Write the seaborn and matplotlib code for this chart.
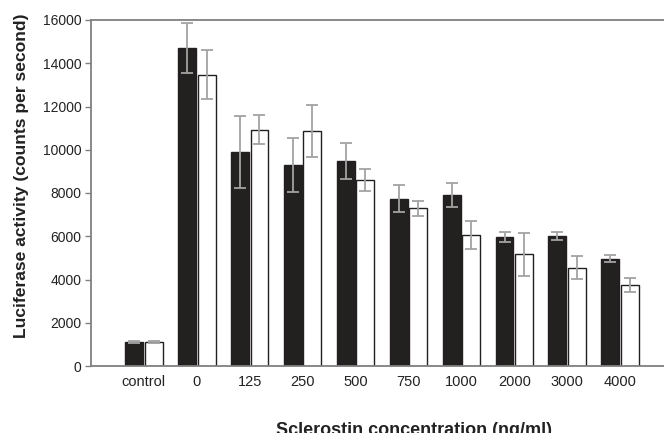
import matplotlib
matplotlib.use("Agg")
import matplotlib.pyplot as plt
import seaborn as sns
import pandas as pd

categories = ["control", "0", "125", "250", "500", "750", "1000", "2000", "3000", "4000"]
series_names = ["A", "B"]
black_vals = [1100, 14690, 9900, 9280, 9480, 7740, 7910, 5950, 6010, 4960]
black_err = [50, 1160, 1670, 1250, 840, 620, 560, 230, 170, 170]
white_vals = [1100, 13470, 10930, 10880, 8600, 7290, 6060, 5160, 4550, 3730]
white_err = [50, 1130, 680, 1210, 530, 355, 660, 980, 530, 320]
yticks = [0, 2000, 4000, 6000, 8000, 10000, 12000, 14000, 16000]

sns.set_style("white")
plt.rcParams["font.family"] = ["Liberation Sans", "DejaVu Sans"]

df = pd.DataFrame({
    "conc": categories * 2,
    "series": [series_names[0]] * len(categories) + [series_names[1]] * len(categories),
    "value": black_vals + white_vals,
})

fig = plt.figure(figsize=(6.64, 4.33), dpi=100)
ax = fig.add_axes([91 / 664, 67 / 433, 582 / 664, 346 / 433])

dark = "#231f20"
sns.barplot(data=df, x="conc", y="value", hue="series", order=categories,
            hue_order=series_names, palette={"A": dark, "B": "white"},
            width=0.737, gap=0.08, errorbar=None, legend=False, ax=ax)

errs = [black_err, white_err]
for cont, err in zip(ax.containers, errs):
    xs = []
    ys = []
    for bar in cont:
        bar.set_edgecolor(dark)
        bar.set_linewidth(1.0)
        xs.append(bar.get_x() + bar.get_width() / 2)
        ys.append(bar.get_height())
    ax.errorbar(xs, ys, yerr=err, fmt="none", ecolor="#a3a3a3",
                elinewidth=1.3, capsize=4, capthick=1.3, zorder=5)

ax.set_xlim(-1, 10)
ax.set_ylim(0, 16000)
ax.set_yticks(yticks)
ax.set_yticklabels([str(v) for v in yticks], fontsize=10, color="#222222")
ax.tick_params(axis="y", which="major", left=True, length=4, width=1,
               color="#808080", pad=3)
ax.tick_params(axis="x", bottom=False, labelsize=10.5, pad=3, labelcolor="#222222")

for side in ["left", "top", "bottom"]:
    ax.spines[side].set_color("#808080")
    ax.spines[side].set_linewidth(1.3)
ax.spines["right"].set_visible(False)

ax.set_xlabel("Sclerostin concentration (ng/ml)", fontsize=13,
              fontweight="bold", color="#222222")
ax.xaxis.set_label_coords((414 - 91) / 582, (-2 - 67) / 346)
ax.xaxis.label.set_va("baseline")
ax.set_ylabel("Luciferase activity (counts per second)", fontsize=12.6,
              fontweight="bold", color="#222222")
ax.yaxis.set_label_coords((21.5 - 91) / 582, (257 - 67) / 346)
ax.yaxis.label.set_va("center")

fig.savefig("out.png", dpi=100)
